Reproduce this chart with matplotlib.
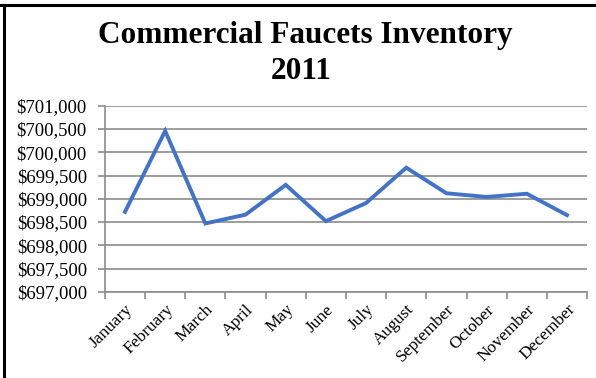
import matplotlib
matplotlib.use("Agg")
import matplotlib.pyplot as plt
from matplotlib.lines import Line2D
from matplotlib.ticker import FuncFormatter, FixedLocator

months = ["January", "February", "March", "April", "May", "June", "July",
          "August", "September", "October", "November", "December"]
inventory = [698720, 700460, 698470, 698660, 699300, 698520, 698910,
             699670, 699120, 699040, 699110, 698650]

plt.rcParams['font.family'] = ['Liberation Serif', 'DejaVu Serif']

fig = plt.figure(figsize=(5.96, 3.78), dpi=100)
ax = fig.add_axes([0.176, 0.228, 0.809, 0.492])

x = list(range(len(months)))
ax.plot(x, inventory, color='#4472C4', lw=2.8, solid_joinstyle='miter')

ax.set_xlim(-0.5, len(months) - 0.5)
ax.set_ylim(697000, 701000)
ax.set_yticks(range(697000, 701001, 500))
ax.yaxis.set_major_formatter(FuncFormatter(lambda v, p: "${:,.0f}".format(v)))
ax.grid(axis='y', color='#8c8c8c', lw=1.2)
ax.set_axisbelow(True)

ax.set_xticks(x)
ax.set_xticklabels(months, rotation=45, ha='right', rotation_mode='anchor', fontsize=12.5)
ax.xaxis.set_minor_locator(FixedLocator([i - 0.5 for i in range(len(months) + 1)]))
ax.tick_params(axis='x', which='major', length=0, pad=7)
ax.tick_params(axis='x', which='minor', length=5, color='#8c8c8c', width=1.2)
ax.tick_params(axis='y', length=5, color='#8c8c8c', width=1.2, labelsize=13.5, pad=8)

for s in ['top', 'right']:
    ax.spines[s].set_visible(False)
for s in ['left', 'bottom']:
    ax.spines[s].set_color('#8c8c8c')
    ax.spines[s].set_linewidth(1.2)

fig.text(0.512, 0.905, "Commercial Faucets Inventory", ha='center', va='center',
         fontsize=22.5, fontweight='bold')
fig.text(0.505, 0.81, "2011", ha='center', va='center', fontsize=22.5, fontweight='bold')

# black frame at top and left, as in the source
fig.add_artist(Line2D([0.0, 1.0], [0.987, 0.987], color='black', lw=2.2, transform=fig.transFigure))
fig.add_artist(Line2D([0.007, 0.007], [0.0, 0.987], color='black', lw=2.2, transform=fig.transFigure))

fig.savefig("out.png", dpi=100)
